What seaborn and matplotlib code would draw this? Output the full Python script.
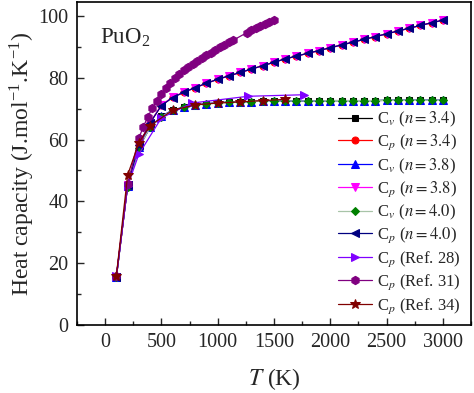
import pandas as pd
import matplotlib
matplotlib.use('Agg')
import matplotlib.pyplot as plt
from matplotlib.ticker import MultipleLocator
import seaborn as sns

# %%
# model temperatures (K)
temps = [100, 200, 300, 400, 500, 600, 700, 800, 900, 1000,
         1100, 1200, 1300, 1400, 1500, 1600, 1700, 1800, 1900, 2000,
         2100, 2200, 2300, 2400, 2500, 2600, 2700, 2800, 2900, 3000]

cv_34 = [15.5, 45.0, 57.5, 64.0, 67.5, 69.5, 70.5, 71.2, 71.6, 71.9,
         72.1, 72.2, 72.3, 72.4, 72.4, 72.5, 72.5, 72.5, 72.5, 72.6,
         72.6, 72.6, 72.6, 72.6, 72.7, 72.7, 72.7, 72.7, 72.7, 72.7]
cp_34 = [15.6, 45.3, 58.3, 65.5, 71.1, 73.7, 75.3, 76.8, 78.2, 79.5,
         80.6, 81.7, 82.8, 83.9, 85.0, 86.1, 87.0, 87.9, 88.8, 89.7,
         90.6, 91.5, 92.4, 93.3, 94.2, 95.1, 96.0, 96.9, 97.8, 98.6]
cv_38 = [15.5, 45.0, 57.5, 64.0, 67.5, 69.5, 70.5, 71.2, 71.6, 71.9,
         72.1, 72.2, 72.3, 72.4, 72.4, 72.5, 72.5, 72.5, 72.5, 72.6,
         72.6, 72.6, 72.6, 72.6, 72.7, 72.7, 72.7, 72.7, 72.7, 72.7]
cp_38 = [15.6, 45.3, 58.3, 65.5, 71.1, 73.7, 75.3, 76.8, 78.2, 79.5,
         80.6, 81.7, 82.8, 83.9, 85.0, 86.1, 87.0, 87.9, 88.8, 89.7,
         90.6, 91.5, 92.4, 93.3, 94.2, 95.1, 96.0, 96.9, 97.8, 98.6]
cv_40 = [15.4, 44.8, 57.4, 63.9, 67.4, 69.4, 70.5, 71.2, 71.6, 71.9,
         72.1, 72.2, 72.3, 72.4, 72.4, 72.5, 72.5, 72.5, 72.5, 72.6,
         72.6, 72.6, 72.6, 72.6, 72.7, 72.7, 72.7, 72.7, 72.7, 72.7]
cp_40 = [15.5, 45.2, 58.2, 65.4, 71.0, 73.6, 75.3, 76.8, 78.2, 79.5,
         80.6, 81.7, 82.8, 83.9, 85.0, 86.1, 87.0, 87.9, 88.8, 89.7,
         90.6, 91.5, 92.4, 93.3, 94.2, 95.1, 96.0, 96.9, 97.8, 98.6]

# literature data
ref28_t = [100, 200, 300, 500, 770, 1270, 1770]
ref28_c = [15.8, 45.0, 55.3, 67.0, 71.8, 74.0, 74.5]

ref31_t = [100, 200, 300, 340, 380, 420, 460, 500, 540, 580, 620, 660, 700,
           740, 780, 820, 860, 900, 940, 980, 1020, 1060, 1100, 1140,
           1260, 1300, 1340, 1380, 1420, 1460, 1500]
ref31_c = [16.0, 45.5, 60.5, 64.2, 67.4, 70.2, 72.6, 74.8, 76.7, 78.4, 79.9,
           81.2, 82.4, 83.5, 84.5, 85.5, 86.4, 87.3, 88.1, 89.0, 89.8, 90.6,
           91.4, 92.2, 94.6, 95.3, 96.0, 96.7, 97.3, 97.9, 98.6]

ref34_t = [100, 200, 300, 400, 600, 800, 1000, 1200, 1400, 1600]
ref34_c = [16.0, 48.5, 59.0, 64.5, 69.5, 71.2, 71.8, 72.2, 72.6, 73.0]

# %%
sns.set_style('ticks')
plt.rcParams['font.family'] = ['Liberation Serif', 'DejaVu Serif']
plt.rcParams['mathtext.fontset'] = 'stix'

fig = plt.figure(figsize=(4.74, 3.93), dpi=100)
ax = fig.add_axes([0.1624, 0.173, 0.8312, 0.8219])

series = [
    (temps, cv_34, r'C$_v$ ($n = 3.4$)', 's', 'black', 'black', 4.5),
    (temps, cp_34, r'C$_p$ ($n = 3.4$)', 'o', 'red', 'red', 5),
    (temps, cv_38, r'C$_v$ ($n = 3.8$)', '^', 'blue', 'blue', 5.5),
    (temps, cp_38, r'C$_p$ ($n = 3.8$)', 'v', '#ff00ff', '#ff00ff', 5.5),
    (temps, cv_40, r'C$_v$ ($n = 4.0$)', 'D', '#008000', '#a8c4a8', 4.5),
    (temps, cp_40, r'C$_p$ ($n = 4.0$)', '<', '#000080', '#000080', 5.5),
    (ref28_t, ref28_c, r'C$_p$ (Ref. 28)', '>', '#8000ff', '#8000ff', 5.5),
    (ref31_t, ref31_c, r'C$_p$ (Ref. 31)', 'h', '#800080', '#800080', 6),
    (ref34_t, ref34_c, r'C$_p$ (Ref. 34)', '*', '#800000', '#800000', 7),
]

for t, c, label, mk, mcol, lcol, ms in series:
    d = pd.DataFrame({'T': t, 'C': c})
    sns.lineplot(data=d, x='T', y='C', ax=ax, color=lcol, marker=mk,
                 markersize=ms, markerfacecolor=mcol, markeredgecolor=mcol,
                 linewidth=0.9, label=label, estimator=None, sort=False)

ax.set_xlim(-250, 3250)
ax.set_ylim(0, 104.5)
ax.xaxis.set_major_locator(MultipleLocator(500))
ax.xaxis.set_minor_locator(MultipleLocator(250))
ax.yaxis.set_major_locator(MultipleLocator(20))
ax.yaxis.set_minor_locator(MultipleLocator(10))
ax.tick_params(which='major', direction='in', length=5, width=1, labelsize=14.5, pad=6)
ax.tick_params(which='minor', direction='in', length=3, width=1)
for s in ax.spines.values():
    s.set_linewidth(1.2)
    s.set_color('black')

ax.set_xlabel(r'$T$ (K)', fontsize=17, labelpad=10)
ax.set_ylabel(r'Heat capacity (J.mol$^{\mathregular{-1}}$.K$^{\mathregular{-1}}$)', fontsize=17, labelpad=1)
ax.text(0.058, 0.873, r'PuO$_\mathregular{2}$', transform=ax.transAxes, fontsize=16.5, va='baseline')

ax.legend(loc='lower right', bbox_to_anchor=(0.99, 0.008), frameon=False, fontsize=12,
          handlelength=2.0, handletextpad=0.3, labelspacing=0.23, borderaxespad=0)

fig.savefig('out.png', dpi=100)
